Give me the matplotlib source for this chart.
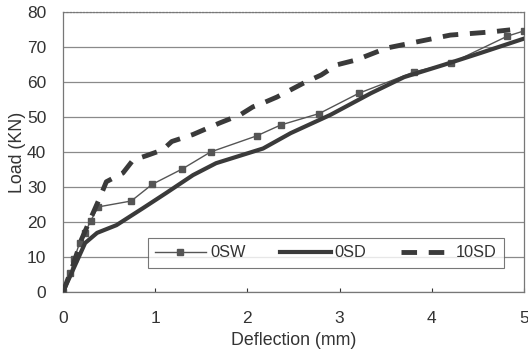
import matplotlib
matplotlib.use("Agg")
from matplotlib import pyplot as plt

plt.rcParams['font.family'] = ['Liberation Sans', 'DejaVu Sans']

# 0SW: thin line with square markers
sw_x = [0, 0.08, 0.12, 0.18, 0.24, 0.30, 0.38, 0.74, 0.97, 1.29, 1.60, 2.10,
        2.36, 2.78, 3.21, 3.81, 4.21, 4.82, 5.0]
sw_y = [0, 5.4, 9.4, 14.0, 17.0, 20.3, 24.3, 26.0, 30.8, 35.1, 40.0, 44.6,
        47.7, 51.0, 56.8, 62.9, 65.4, 73.1, 74.6]

# 0SD: thick solid
sd_x = [0, 0.24, 0.37, 0.58, 0.87, 1.12, 1.41, 1.66, 2.17, 2.47, 2.90, 3.34,
        3.70, 4.13, 4.53, 5.0]
sd_y = [0, 14.0, 16.9, 19.1, 24.0, 28.3, 33.4, 36.8, 41.0, 45.4, 50.6, 56.8,
        61.4, 64.9, 68.3, 72.4]

# 10SD: thick dashed
d10_x = [0, 0.1, 0.2, 0.3, 0.4, 0.47, 0.65, 0.76, 0.91, 1.08, 1.18, 1.41, 1.70,
         1.92, 2.06, 2.17, 2.32, 2.61, 2.80, 2.97, 3.18, 3.51, 3.77, 4.20, 4.64,
         4.85]
d10_y = [0, 7, 15, 21, 27, 31.5, 34, 37.7, 39, 40.6, 43, 45, 48.3, 50.6, 52.9,
         54, 55.7, 59.7, 62, 64.9, 66.3, 69.7, 71.1, 73.4, 74.3, 74.9]

fig = plt.figure(figsize=(5.28, 3.55), dpi=100)
ax = fig.add_axes([63/528, 1-292/355, 461/528, 280/355])

ax.plot(sw_x, sw_y, color='#555555', lw=1.0, marker='s', ms=5,
        label='0SW', zorder=3)
ax.plot(sd_x, sd_y, color='#3a3a3a', lw=3.0, label='0SD', zorder=3)
ax.plot(d10_x, d10_y, color='#3a3a3a', lw=3.5, dashes=(3.2, 2.4),
        label='10SD', zorder=3)

ax.set_xlim(0, 5)
ax.set_ylim(0, 80)
ax.set_xticks([0, 1, 2, 3, 4, 5])
ax.set_yticks(range(0, 81, 10))
ax.yaxis.grid(True, color='#8a8a8a', lw=0.9)
ax.set_axisbelow(True)
ax.tick_params(axis='both', labelsize=12.5, colors='#333333', length=3,
               direction='in', width=0.8)
ax.tick_params(axis='y', length=0, pad=12)
ax.tick_params(axis='x', pad=14)
for s in ax.spines.values():
    s.set_color('#777777')
    s.set_linewidth(0.9)
ax.spines['top'].set_linestyle(':')

ax.set_xlabel('Deflection (mm)', fontsize=12.8, color='#333333', labelpad=4)
ax.set_ylabel('Load (KN)', fontsize=12.8, color='#333333', labelpad=1)

leg = ax.legend(loc='center', bbox_to_anchor=(0.57, 0.14), ncol=3,
                fontsize=11.8, frameon=True, fancybox=False,
                handlelength=3.1, handletextpad=0.25, columnspacing=2.1,
                borderpad=0.45)
leg.get_frame().set_edgecolor('#555555')
leg.get_frame().set_linewidth(0.8)
for t in leg.get_texts():
    t.set_color('#333333')

fig.savefig('out.png', dpi=100)
